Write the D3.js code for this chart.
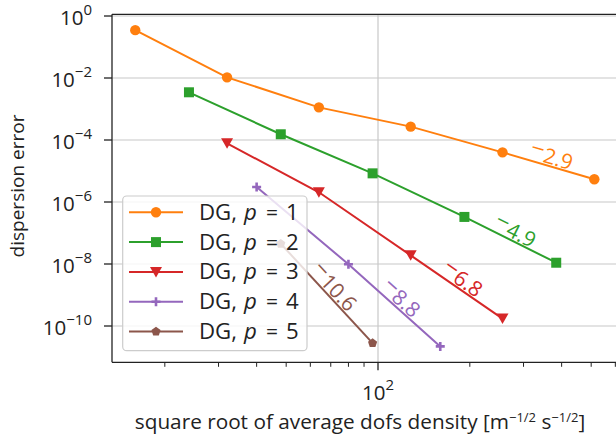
<!DOCTYPE html>
<html>
<head>
<meta charset="utf-8">
<script src="https://cdn.jsdelivr.net/npm/d3@7"></script>
<style>
  body { margin: 0; background: #fff; }
  text { font-family: "Open Sans", "DejaVu Sans", sans-serif; fill: #222; }
</style>
</head>
<body>
<svg width="616" height="438"></svg>
<script>
// dofs density and dispersion error, one pair of arrays per degree
const dofs1 = [16, 32, 64, 128, 256, 512]
const err1 = [3.5e-1, 1.05e-2, 1.13e-3, 2.7e-4, 4.0e-5, 5.4e-6]
const dofs2 = [24, 48, 96, 192, 384]
const err2 = [3.46e-3, 1.53e-4, 8.4e-6, 3.3e-7, 1.1e-8]
const dofs3 = [32, 64, 128, 256]
const err3 = [7.8e-5, 2.06e-6, 1.9e-8, 1.73e-10]
const dofs4 = [40, 80, 160]
const err4 = [3.05e-6, 9.8e-9, 2.2e-11]
const dofs5 = [48, 96]
const err5 = [4.5e-8, 2.8e-11]

const degrees = [1, 2, 3, 4, 5]
const slopeLabels = ['2.9', '4.9', '6.8', '8.8', '10.6']
const yTickExp = [0, -2, -4, -6, -8, -10]
const xTickExp = [2]

const series = [
    { p: 1, x: dofs1, y: err1, marker: 'circle' },
    { p: 2, x: dofs2, y: err2, marker: 'square' },
    { p: 3, x: dofs3, y: err3, marker: 'tri' },
    { p: 4, x: dofs4, y: err4, marker: 'plus' },
    { p: 5, x: dofs5, y: err5, marker: 'pent' }
]
const color = d3.scaleOrdinal(degrees, ['#ff7f0e', '#2ca02c', '#d62728', '#9467bd', '#8c564b'])

const svg = d3.select('svg')
const margin = { top: 14.3, right: -4, bottom: 75.7, left: 112 }
const width = 616 - margin.left - margin.right
const height = 438 - margin.top - margin.bottom

const x = d3.scaleLog()
    .domain([Math.pow(10, 2 - 266 / 305), Math.pow(10, 2 + 242 / 305)])
    .range([margin.left, margin.left + width])
const y = d3.scaleLog()
    .domain([Math.pow(10, -11.171), Math.pow(10, 0.055)])
    .range([margin.top + height, margin.top])

// scale a text's font so it is as wide as in the figure
const fitSize = (sel, size, target) => size * target / sel.node().getComputedTextLength()

// grid
const grid = svg.append('g')
grid.selectAll('.gy').data(yTickExp).enter().append('line')
    .attr('x1', margin.left).attr('x2', 616)
    .attr('y1', d => y(Math.pow(10, d))).attr('y2', d => y(Math.pow(10, d)))
    .attr('stroke', '#c8c8c8').attr('stroke-width', 1.2)
grid.selectAll('.gx').data(xTickExp).enter().append('line')
    .attr('y1', margin.top).attr('y2', margin.top + height)
    .attr('x1', d => x(Math.pow(10, d))).attr('x2', d => x(Math.pow(10, d)))
    .attr('stroke', '#c8c8c8').attr('stroke-width', 1.2)

// minor x ticks
const minor = []
for (let k = 2; k < 10; k++) { minor.push(k * 10); minor.push(k * 100) }
svg.append('g').selectAll('line')
    .data(minor.filter(d => x(d) >= margin.left && x(d) <= 616))
    .enter().append('line')
    .attr('x1', d => x(d)).attr('x2', d => x(d))
    .attr('y1', margin.top + height).attr('y2', margin.top + height + 4.5)
    .attr('stroke', '#222').attr('stroke-width', 1)

// major ticks + labels
const yAx = svg.append('g')
yTickExp.forEach(e => {
    const yy = y(Math.pow(10, e))
    yAx.append('line').attr('x1', margin.left - 8).attr('x2', margin.left)
        .attr('y1', yy).attr('y2', yy).attr('stroke', '#222').attr('stroke-width', 1.3)
    const t = yAx.append('text').attr('x', 92).attr('y', yy + 8.7)
        .attr('text-anchor', 'end').attr('font-size', 20.5)
    t.append('tspan').text('10')
    t.append('tspan').attr('dy', -9.5).attr('font-size', 15).text(e === 0 ? '0' : '\u2212' + (-e))
})
const xAx = svg.append('g')
xTickExp.forEach(e => {
    const xx = x(Math.pow(10, e))
    xAx.append('line').attr('x1', xx).attr('x2', xx)
        .attr('y1', margin.top + height).attr('y2', margin.top + height + 8)
        .attr('stroke', '#222').attr('stroke-width', 1.3)
    const t = xAx.append('text').attr('x', xx).attr('y', 400)
        .attr('text-anchor', 'middle').attr('font-size', 20.5)
    t.append('tspan').text('10')
    t.append('tspan').attr('dy', -10).attr('font-size', 15).text(e)
})

// spines
svg.append('line').attr('x1', margin.left).attr('x2', margin.left)
    .attr('y1', margin.top).attr('y2', margin.top + height)
    .attr('stroke', '#222').attr('stroke-width', 1.3)
svg.append('line').attr('x1', margin.left).attr('x2', 616)
    .attr('y1', margin.top + height).attr('y2', margin.top + height)
    .attr('stroke', '#222').attr('stroke-width', 1.3)
svg.append('line').attr('x1', margin.left).attr('x2', 616)
    .attr('y1', margin.top).attr('y2', margin.top)
    .attr('stroke', '#222').attr('stroke-width', 1.3)

const drawMarker = (g, type, c) => {
    if (type === 'circle') g.append('circle').attr('r', 5.2).attr('fill', c)
    if (type === 'square') g.append('rect').attr('x', -5).attr('y', -5).attr('width', 10).attr('height', 10).attr('fill', c)
    if (type === 'tri') g.append('path').attr('d', 'M-6,-5L6,-5L0,5.5Z').attr('fill', c)
    if (type === 'plus') g.append('path').attr('d', 'M-4.5,0H4.5M0,-4.5V4.5').attr('stroke', c).attr('stroke-width', 2.6)
    if (type === 'pent') {
        const pts = d3.range(5).map(i => {
            const a = -Math.PI / 2 + i * 2 * Math.PI / 5
            return [4.8 * Math.cos(a), 4.8 * Math.sin(a)]
        })
        g.append('path').attr('d', 'M' + pts.join('L') + 'Z').attr('fill', c)
    }
}

const line = d3.line().x(d => x(d[0])).y(d => y(d[1]))

series.forEach((s, i) => {
    const c = color(s.p)
    const pts = s.x.map((v, j) => [v, s.y[j]])
    svg.append('path').attr('d', line(pts)).attr('fill', 'none')
        .attr('stroke', c).attr('stroke-width', 2)
    pts.forEach(p => {
        const g = svg.append('g').attr('transform', `translate(${x(p[0])},${y(p[1])})`)
        drawMarker(g, s.marker, c)
    })
    // slope label over the last segment
    const a = pts[pts.length - 2], b = pts[pts.length - 1]
    const x0 = x(a[0]), y0 = y(a[1]), x1 = x(b[0]), y1 = y(b[1])
    const ang = Math.atan2(y1 - y0, x1 - x0)
    const mx = (x0 + x1) / 2 + 10 * Math.sin(ang)
    const my = (y0 + y1) / 2 - 10 * Math.cos(ang)
    const t = svg.append('text')
        .attr('transform', `translate(${mx},${my}) rotate(${ang * 180 / Math.PI})`)
        .attr('text-anchor', 'middle').attr('dominant-baseline', 'central')
        .attr('font-size', 21).style('fill', c)
    t.append('tspan').attr('dy', -5).attr('font-family', 'DejaVu Sans').attr('font-size', 18).text('\u2212')
    t.append('tspan').attr('dy', 5).text(slopeLabels[i])
})

// legend
const lg = svg.append('g')
lg.append('rect').attr('x', 122.7).attr('y', 196).attr('width', 184.3).attr('height', 154.7)
    .attr('rx', 4).attr('fill', 'white').attr('fill-opacity', 0.8)
    .attr('stroke', '#cccccc').attr('stroke-width', 1.2)
const probe = lg.append('text').attr('font-size', 20).text('DG,')
const legendSize = Math.min(23, fitSize(probe, 20, 38))
probe.remove()
series.forEach((s, i) => {
    const c = color(s.p)
    const yy = 212.3 + i * 29.8
    lg.append('line').attr('x1', 129).attr('x2', 183).attr('y1', yy).attr('y2', yy)
        .attr('stroke', c).attr('stroke-width', 2)
    drawMarker(lg.append('g').attr('transform', `translate(156,${yy})`), s.marker, c)
    const row = lg.append('g').attr('font-size', legendSize)
    row.append('text').attr('x', 199).attr('y', yy + 7.5).text('DG,')
    row.append('text').attr('x', 244).attr('y', yy + 7.5).attr('font-style', 'italic').text('p')
    row.append('text').attr('x', 272).attr('y', yy + 7.5).attr('text-anchor', 'middle')
        .attr('font-family', 'DejaVu Sans').attr('font-size', 21).text('=')
    row.append('text').attr('x', 286).attr('y', yy + 7.5).text(s.p)
})

// axis labels
const yl = svg.append('text').attr('transform', 'translate(17,186) rotate(-90)')
    .attr('text-anchor', 'middle').attr('dominant-baseline', 'central')
    .attr('font-size', 17.5).text('dispersion error')
yl.attr('font-size', fitSize(yl, 17.5, 143))
const xl = svg.append('text').attr('x', 360).attr('y', 429)
    .attr('text-anchor', 'middle').attr('font-size', 18)
xl.append('tspan').text('square root of average dofs density [m')
xl.append('tspan').attr('dy', -7).attr('font-size', 13).text('\u22121/2')
xl.append('tspan').attr('dy', 7).text(' s')
xl.append('tspan').attr('dy', -7).attr('font-size', 13).text('\u22121/2')
xl.append('tspan').attr('dy', 7).text(']')
xl.attr('font-size', fitSize(xl, 18, 459))
</script>
</body>
</html>
